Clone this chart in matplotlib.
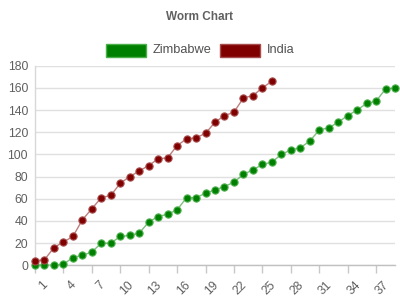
import matplotlib
matplotlib.use("Agg")
import matplotlib.pyplot as plt
from matplotlib.patches import Rectangle
import matplotlib.transforms as mtransforms

plt.rcParams['font.family'] = ['Liberation Sans', 'DejaVu Sans']

title = "Worm Chart"
series_names = ["Zimbabwe", "India"]
colors = ["#008000", "#800000"]
edge_colors = ["#4caf4c", "#a64c4c"]
overs = list(range(1, 40))
zimbabwe = [0, 0, 0, 1, 7, 9, 12, 20, 20, 26, 27, 29, 39, 44, 46, 50, 61, 61,
            65, 68, 71, 75, 82, 86, 91, 93, 100, 104, 106, 112, 122, 124, 129,
            135, 140, 146, 148, 159, 160]
india = [4, 5, 16, 21, 26, 41, 51, 61, 63, 74, 80, 85, 90, 96, 97, 108, 114,
         115, 119, 129, 135, 138, 151, 153, 160, 166]
xtick_labels = [str(v) for v in range(1, 40, 3)]
yticks = list(range(0, 181, 20))

W, H = 400, 300
fig = plt.figure(figsize=(4, 3), dpi=100)
ax = fig.add_axes([35 / W, (H - 265.3) / H, 360 / W, 199.6 / H])

for name, vals, c, ec in zip(series_names, [zimbabwe, india], colors, edge_colors):
    ax.plot(overs[:len(vals)], vals, color=c, alpha=0.5, lw=1, zorder=2,
            clip_on=False)
    ax.plot(overs[:len(vals)], vals, ls='none', marker='o', ms=5.2,
            mfc=c, mec=ec, mew=0.8, zorder=3, clip_on=False)

ax.set_xlim(1, 39)
ax.set_ylim(0, 180)
ax.set_yticks(yticks)
ax.set_yticklabels([str(v) for v in yticks])
ax.set_xticks(list(range(1, 40, 3)))
ax.set_xticklabels(xtick_labels)
ax.grid(axis='y', color='#e0e0e0', lw=1)
ax.set_axisbelow(True)
for s in ['top', 'right']:
    ax.spines[s].set_visible(False)
ax.spines['left'].set_color('#d8d8d8')
ax.spines['bottom'].set_color('#c0c0c0')
ax.spines['left'].set_linewidth(1)
ax.spines['bottom'].set_linewidth(1)
ax.tick_params(axis='y', length=0, pad=5, labelsize=8.8, labelcolor='#606060')
ax.tick_params(axis='x', length=5.8, width=1, color='#c8c8c8', pad=4,
               labelsize=8.8, labelcolor='#606060')
offset = mtransforms.ScaledTranslation(5 / 72, 0, fig.dpi_scale_trans)
for lab in ax.get_xticklabels():
    lab.set_rotation(45)
    lab.set_ha('right')
    lab.set_va('top')
    lab.set_rotation_mode('anchor')
    lab.set_transform(lab.get_transform() + offset)

fig.text(0.5, 1 - 16.5 / H, title, ha='center', va='center', fontsize=8.5,
         fontweight='bold', color='#606060')

legend_items = [(106, 153), (220, 267)]
for (bx, tx), name, c, ec in zip(legend_items, series_names, colors, edge_colors):
    fig.patches.append(Rectangle((bx / W, (H - 56.5) / H), 40 / W, 13 / H,
                                 transform=fig.transFigure, facecolor=c,
                                 edgecolor=ec, lw=1))
    fig.text(tx / W, 1 - 50 / H, name, ha='left', va='center', fontsize=9.2,
             color='#505050')

fig.savefig('out.png', dpi=100)
